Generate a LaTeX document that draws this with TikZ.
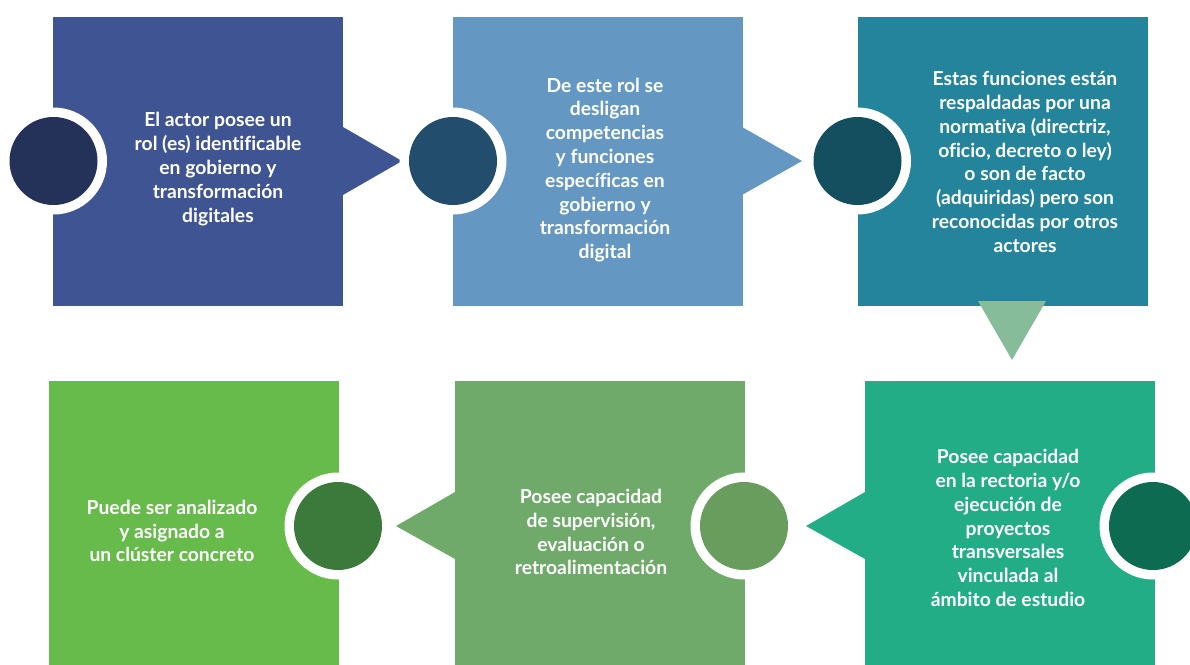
\documentclass[tikz,border=0pt]{standalone}
\usepackage{fontspec}
\setmainfont{Lato}[Ligatures=NoCommon]
\definecolor{boxa}{HTML}{3F5492}
\definecolor{dota}{HTML}{243159}
\definecolor{boxb}{HTML}{6498C3}
\definecolor{dotb}{HTML}{224D6C}
\definecolor{boxc}{HTML}{23849B}
\definecolor{dotc}{HTML}{134F5F}
\definecolor{downtri}{HTML}{86BC9A}
\definecolor{boxd}{HTML}{22AD86}
\definecolor{dotd}{HTML}{0D6B52}
\definecolor{boxe}{HTML}{6FAA6A}
\definecolor{dote}{HTML}{689D5E}
\definecolor{boxf}{HTML}{66BB4A}
\definecolor{dotf}{HTML}{3C7A3C}
\begin{document}
\begin{tikzpicture}[x=1pt,y=-1pt,
  panel/.style={rectangle,draw=none,inner sep=0pt,outer sep=0pt,minimum width=290pt},
  ring/.style={circle,fill=white,draw=none,inner sep=0pt,minimum size=107pt},
  dot/.style={circle,draw=none,inner sep=0pt,minimum size=88pt},
  label/.style={text=white,align=center,font=\bfseries\fontsize{19.3}{23.8}\selectfont,inner sep=0pt}]
\clip (0,0) rectangle (1190,664);
\useasboundingbox (0,0) rectangle (1190,664);
% panels
\node[panel,fill=boxa,minimum height=289pt] (b1) at (198,161) {};
\node[panel,fill=boxb,minimum height=289pt] (b2) at (597.5,161) {};
\node[panel,fill=boxc,minimum height=289pt] (b3) at (1002.5,161) {};
\node[panel,fill=boxd,minimum height=284pt] (b4) at (1010,523) {};
\node[panel,fill=boxe,minimum height=284pt] (b5) at (599.5,523) {};
\node[panel,fill=boxf,minimum height=284pt] (b6) at (193.5,523) {};
% pointers
\fill[boxa] (343,127) -- (402,161) -- (343,195) -- cycle;
\fill[boxb] (742,127) -- (802,161) -- (742,195) -- cycle;
\fill[downtri] (978,301) -- (1012,360) -- (1046,301) -- cycle;
\fill[boxd] (865,492) -- (806,526) -- (865,559) -- cycle;
\fill[boxe] (455,492) -- (396,526) -- (455,559) -- cycle;
% circles
\node[ring] (r1) at (53.5,161) {};
\node[dot,fill=dota] (d1) at (r1) {};
\node[ring] (r2) at (453,161) {};
\node[dot,fill=dotb] (d2) at (r2) {};
\node[ring] (r3) at (857.5,161) {};
\node[dot,fill=dotc] (d3) at (r3) {};
\node[ring] (r4) at (1153,526) {};
\node[dot,fill=dotd] (d4) at (r4) {};
\node[ring] (r5) at (744,526) {};
\node[dot,fill=dote] (d5) at (r5) {};
\node[ring] (r6) at (338,526) {};
\node[dot,fill=dotf] (d6) at (r6) {};
% texts
\node[label] (t1) at (218,169) {El actor posee un\\rol (es) identificable\\en gobierno y\\transformación\\digitales};
\node[label] (t2) at (605,170) {De este rol se\\desligan\\competencias\\y funciones\\específicas en\\gobierno y\\transformación\\digital};
\node[label] (t3) at (1025,162) {Estas funciones están\\respaldadas por una\\normativa (directriz,\\oficio, decreto o ley)\\o son de facto\\(adquiridas) pero son\\reconocidas por otros\\actores};
\node[label] (t4) at (1008,528) {Posee capacidad\\en la rectoria y/o\\ejecución de\\proyectos\\transversales\\vinculada al\\ámbito de estudio};
\node[label] (t5) at (591,532) {Posee capacidad\\de supervisión,\\evaluación o\\retroalimentación};
\node[label] (t6) at (172,531) {Puede ser analizado\\y asignado a\\un clúster concreto};
\end{tikzpicture}
\end{document}
